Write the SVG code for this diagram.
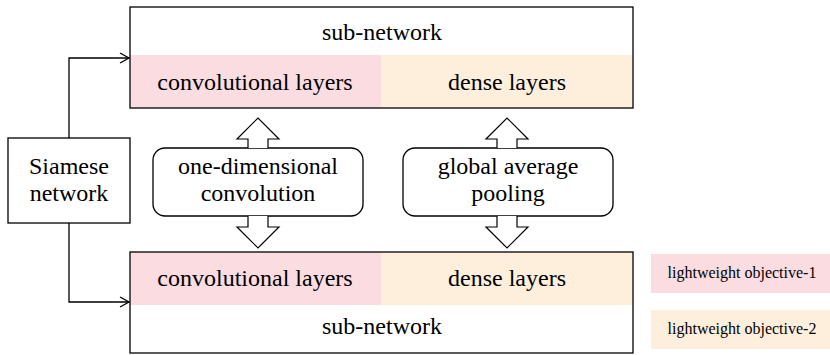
<svg xmlns="http://www.w3.org/2000/svg" width="830" height="355" viewBox="0 0 830 355">
<defs>
<style>
.t{font-family:"Liberation Serif","Times New Roman",serif;font-size:24px;fill:#000;text-anchor:middle}
.s{font-family:"Liberation Serif","Times New Roman",serif;font-size:16px;fill:#000;text-anchor:middle}
.box{fill:none;stroke:#000;stroke-width:1.3}
.pink{fill:#FBDDE1}
.peach{fill:#FEEFDC}
.blk{fill:#fff;stroke:#000;stroke-width:1.2}
.conn{fill:none;stroke:#000;stroke-width:1.3}
</style>
<marker id="ah" markerWidth="12" markerHeight="12" refX="10" refY="6" orient="auto" markerUnits="userSpaceOnUse">
<path d="M1,1 L10,6 L1,11" fill="none" stroke="#000" stroke-width="1.3"/>
</marker>
</defs>
<g id="top-subnetwork">
<rect x="130" y="55" width="251" height="53" class="pink"/>
<rect x="381" y="55" width="252" height="53" class="peach"/>
<rect x="130" y="7" width="503" height="101" class="box"/>
<text x="382" y="40" class="t">sub-network</text>
<text x="255" y="90" class="t">convolutional layers</text>
<text x="507" y="90" class="t">dense layers</text>
</g>
<g id="bottom-subnetwork">
<rect x="130" y="252" width="251" height="53" class="pink"/>
<rect x="381" y="252" width="252" height="53" class="peach"/>
<rect x="130" y="252" width="503" height="101" class="box"/>
<text x="255" y="286" class="t">convolutional layers</text>
<text x="507" y="286" class="t">dense layers</text>
<text x="382" y="334" class="t">sub-network</text>
</g>
<g id="siamese">
<rect x="8" y="138" width="122" height="85" class="box"/>
<text x="69" y="174" class="t">Siamese</text>
<text x="69" y="201" class="t">network</text>
</g>
<g id="conv1d">
<rect x="153" y="148" width="210" height="68" rx="12" class="box"/>
<text x="258" y="174" class="t">one-dimensional</text>
<text x="258" y="201" class="t">convolution</text>
</g>
<g id="gap">
<rect x="403" y="148" width="210" height="68" rx="12" class="box"/>
<text x="508" y="174" class="t">global average</text>
<text x="508" y="201" class="t">pooling</text>
</g>
<g id="legend">
<rect x="651" y="254" width="179" height="39" class="pink"/>
<text x="742" y="278" class="s">lightweight objective-1</text>
<rect x="651" y="310" width="179" height="39" class="peach"/>
<text x="742" y="334" class="s">lightweight objective-2</text>
</g>
<g id="connectors">
<path d="M69,138 V58 H129" class="conn" marker-end="url(#ah)"/>
<path d="M69,223 V302 H129" class="conn" marker-end="url(#ah)"/>
<path d="M248,148 V139 H237 L258,118 L279,139 H268 V148" class="blk"/>
<path d="M248,216 V227 H237 L258,248 L279,227 H268 V216" class="blk"/>
<path d="M497,148 V139 H486 L507,118 L528,139 H517 V148" class="blk"/>
<path d="M497,216 V227 H486 L507,248 L528,227 H517 V216" class="blk"/>
</g>
</svg>
